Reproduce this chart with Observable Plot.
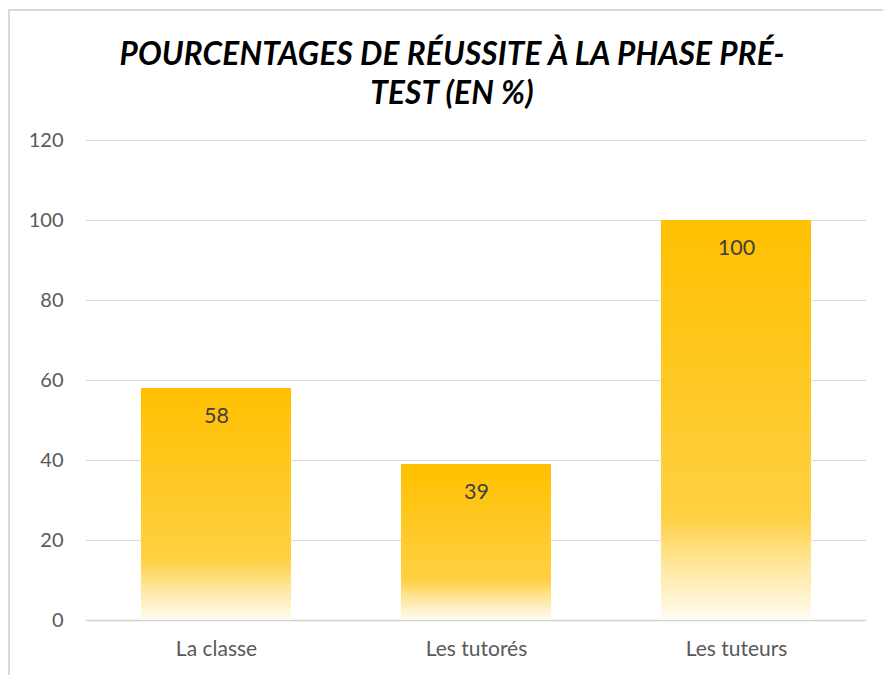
<!DOCTYPE html>
<html>
<head>
<meta charset="utf-8">
<script src="https://cdn.jsdelivr.net/npm/d3@7"></script>
<script src="https://cdn.jsdelivr.net/npm/@observablehq/plot@0.6"></script>
<style>
  html, body { margin: 0; padding: 0; background: #fff; }
  #wrap { position: relative; width: 883px; height: 675px; overflow: hidden; font-family: Lato, "Open Sans", sans-serif; }
  #frame { position: absolute; left: 7.5px; top: 8.5px; width: 900px; height: 700px; border-left: 2px solid #d9d9d9; border-top: 2px solid #d9d9d9; box-sizing: border-box; }
  #title { position: absolute; left: 0; top: 0; width: 904px; height: 120px; text-align: center; font-family: Lato, sans-serif; font-weight: 700; font-style: italic; font-size: 31.5px; line-height: 39px; padding-top: 33.5px; box-sizing: border-box; color: #000; letter-spacing: 0.2px; }
  #chart { position: absolute; left: 0; top: 120px; }
</style>
</head>
<body>
<div id="wrap">
  <div id="frame"></div>
  <div id="title">POURCENTAGES DE RÉUSSITE À LA PHASE PRÉ-<br>TEST (EN %)</div>
  <div id="chart"></div>
</div>
<script>
const categories = ["La classe", "Les tutorés", "Les tuteurs"];
const values = [58, 39, 100];
const yTicks = [0, 20, 40, 60, 80, 100, 120];

const data = categories.map((c, i) => ({category: c, value: values[i]}));

const defs = () => {
  const g = d3.create("svg:defs");
  const lg = g.append("linearGradient").attr("id", "barGrad").attr("x1", 0).attr("y1", 0).attr("x2", 0).attr("y2", 1);
  lg.append("stop").attr("offset", "0%").attr("stop-color", "#FFC000");
  lg.append("stop").attr("offset", "74%").attr("stop-color", "#FFD042");
  lg.append("stop").attr("offset", "88%").attr("stop-color", "#FFE9A8");
  lg.append("stop").attr("offset", "100%").attr("stop-color", "#FFFCF3");
  return g.node();
};

const plot = Plot.plot({
  width: 883,
  height: 555,
  marginTop: 20,
  marginBottom: 55,
  marginLeft: 86,
  marginRight: 17,
  style: { fontFamily: "Lato, sans-serif", fontSize: "20px", color: "#595959", background: "transparent" },
  x: { domain: categories, paddingInner: 0.423, paddingOuter: 0.2115, label: null },
  y: { domain: [0, 120], ticks: yTicks, label: null, tickSize: 0, tickPadding: 23 },
  marks: [
    defs,
    Plot.gridY(yTicks, { stroke: "#d9d9d9", strokeOpacity: 1, strokeWidth: 1.2 }),
    Plot.ruleY([0], { stroke: "#d0d0d0", strokeWidth: 1.5 }),
    Plot.barY(data, { x: "category", y: "value", fill: "url(#barGrad)" }),
    Plot.text(data, { x: "category", y: "value", text: d => String(d.value), dy: 28, fontSize: 21.5, fill: "#404040" }),
    Plot.axisX({ tickSize: 0, tickPadding: 21, fontSize: 21, label: null })
  ]
});
document.getElementById("chart").appendChild(plot);
</script>
</body>
</html>
